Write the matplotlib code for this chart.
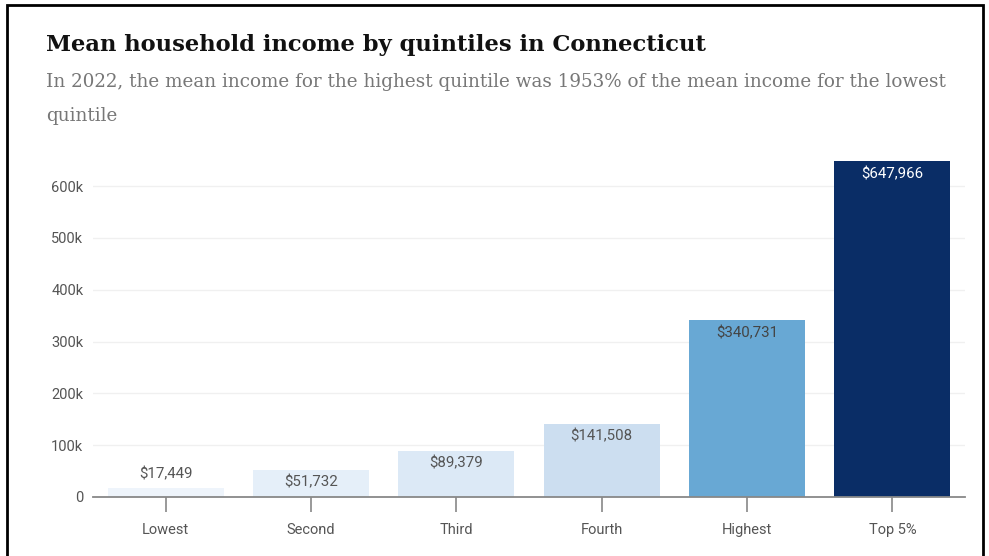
import matplotlib
matplotlib.use("Agg")
from matplotlib import pyplot as plt
from matplotlib.patches import Rectangle
from matplotlib.ticker import FuncFormatter

# data
categories = ['Lowest', 'Second', 'Third', 'Fourth', 'Highest', 'Top 5%']
incomes = [17449, 51732, 89379, 141508, 340731, 647966]
bar_colors = ['#eef4fb', '#e5eff9', '#dce9f6', '#ccdef0', '#68a8d4', '#0a2d66']
label_colors = ['#555555', '#555555', '#555555', '#555555', '#444444', '#ffffff']
yticks = [0, 100000, 200000, 300000, 400000, 500000, 600000]

fig = plt.figure(figsize=(9.89, 5.56), dpi=100)
fig.patch.set_facecolor('white')

# outer black frame
fig.patches.append(Rectangle((7 / 989, -0.05), 976 / 989, 1.041, transform=fig.transFigure,
                             fill=False, edgecolor='black', linewidth=2))

fig.text(46 / 989, 1 - 51 / 556, 'Mean household income by quintiles in Connecticut',
         family='DejaVu Serif', fontweight='bold', fontsize=16.3, color='#111111', va='baseline')
fig.text(46 / 989, 1 - 87 / 556,
         'In 2022, the mean income for the highest quintile was 1953% of the mean income for the lowest',
         family='DejaVu Serif', fontsize=13.25, color='#777777', va='baseline')
fig.text(46 / 989, 1 - 121 / 556, 'quintile',
         family='DejaVu Serif', fontsize=13.25, color='#777777', va='baseline')

ax = fig.add_axes([93 / 989, 59 / 556, 872 / 989, 342 / 556])
x = list(range(len(categories)))
bars = ax.bar(x, incomes, width=0.8, color=bar_colors, zorder=2)

ax.set_xlim(-0.5, len(categories) - 0.5)
ax.set_ylim(0, 660000)
ax.set_yticks(yticks)
ax.yaxis.set_major_formatter(FuncFormatter(lambda v, p: '0' if v == 0 else f'{int(v / 1000)}k'))
ax.set_xticks(x)
ax.set_xticklabels(categories)

for s in ['top', 'right', 'left']:
    ax.spines[s].set_visible(False)
ax.spines['bottom'].set_color('#888888')
ax.spines['bottom'].set_linewidth(1.3)
ax.spines['bottom'].set_zorder(3)

ax.grid(axis='y', color='#f0f0f0', linewidth=1, zorder=0)
ax.tick_params(axis='y', length=0, pad=7, labelsize=10.5, labelcolor='#555555')
ax.tick_params(axis='x', length=11, width=1.2, color='#888888', pad=7.5,
               labelsize=10.5, labelcolor='#555555')
for t in ax.get_xticklabels() + ax.get_yticklabels():
    t.set_family('Roboto')

for i, (b, v) in enumerate(zip(bars, incomes)):
    if v > 40000:
        off = -9
    else:
        off = 10
    ax.annotate(f'${v:,}', (b.get_x() + b.get_width() / 2, v), xytext=(0, off),
                textcoords='offset points', ha='center', va='center', family='Roboto',
                fontsize=10.8, color=label_colors[i], zorder=4)

fig.savefig('out.png', dpi=100, facecolor='white')
